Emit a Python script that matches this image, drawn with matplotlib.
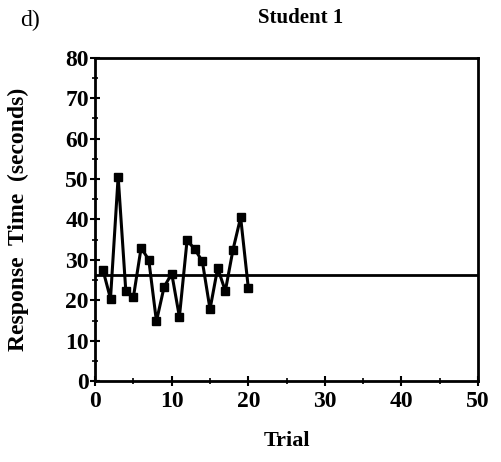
import matplotlib.pyplot as plt
from matplotlib.ticker import MultipleLocator

trials = list(range(1, 21))
response = [27.6, 20.4, 50.6, 22.3, 20.9, 33.0, 30.0, 14.8, 23.3, 26.6,
            15.9, 34.8, 32.7, 29.6, 17.8, 28.0, 22.3, 32.5, 40.5, 23.1]
baseline = 26.3

plt.rcParams['font.family'] = ['Liberation Serif', 'DejaVu Serif']
plt.rcParams['font.weight'] = 'bold'

fig = plt.figure(figsize=(5.01, 4.62), dpi=100)
ax = fig.add_axes([0.19, 0.175, 0.764, 0.70])

ax.plot(trials, response, color='black', lw=2.2, marker='s', ms=5.5, zorder=3)
ax.plot([0, 50], [baseline, baseline], color='black', lw=2)

ax.set_xlim(0, 50)
ax.set_ylim(0, 80)
ax.xaxis.set_major_locator(MultipleLocator(10))
ax.xaxis.set_minor_locator(MultipleLocator(5))
ax.yaxis.set_major_locator(MultipleLocator(10))
ax.yaxis.set_minor_locator(MultipleLocator(5))
ax.tick_params(which='major', direction='inout', length=7, width=1.5, labelsize=17)
ax.tick_params(which='minor', direction='inout', length=4, width=1.2)
ax.tick_params(axis='y', pad=1)
for s in ax.spines.values():
    s.set_linewidth(2)
for lab in ax.get_xticklabels() + ax.get_yticklabels():
    lab.set_fontweight('bold')

ax.set_xlabel('Trial', fontsize=16, fontweight='bold', labelpad=14)
ax.set_ylabel('Response  Time  (seconds)', fontsize=17, fontweight='bold', labelpad=26)
fig.text(0.6, 0.96, 'Student 1', ha='center', va='center', fontsize=15, fontweight='bold')
fig.text(0.04, 0.955, 'd)', ha='left', va='center', fontsize=17, fontweight='normal')

fig.savefig('out.png', dpi=100)
